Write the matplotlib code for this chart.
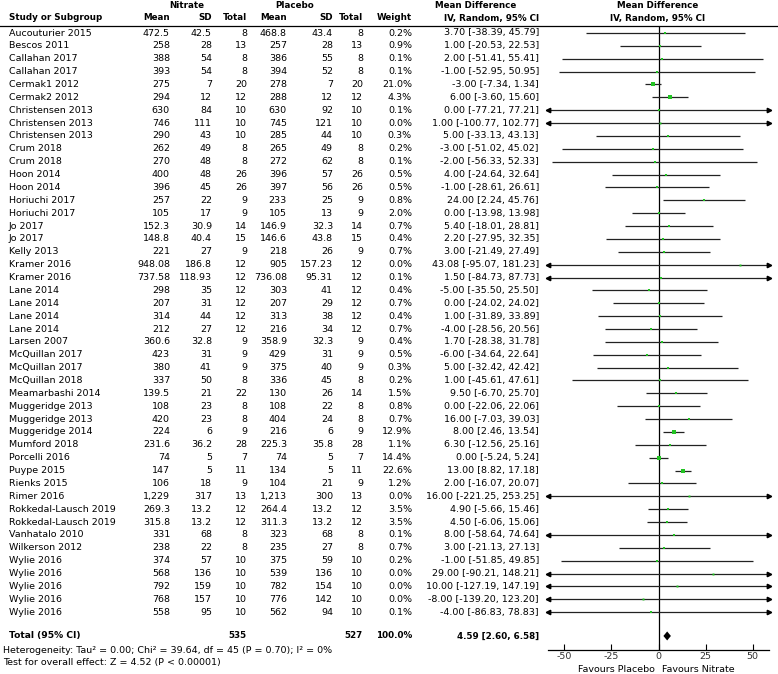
import matplotlib
matplotlib.use('Agg')
import matplotlib.pyplot as plt
import numpy as np

plt.rcParams['font.family'] = ['DejaVu Sans']
plt.rcParams['axes.unicode_minus'] = False
FS = 6.8   # regular text
FB = 6.3   # bold headers

# data
studies = ['Aucouturier 2015', 'Bescos 2011', 'Callahan 2017', 'Callahan 2017', 'Cermak1 2012',
           'Cermak2 2012', 'Christensen 2013', 'Christensen 2013', 'Christensen 2013', 'Crum 2018',
           'Crum 2018', 'Hoon 2014', 'Hoon 2014', 'Horiuchi 2017', 'Horiuchi 2017', 'Jo 2017',
           'Jo 2017', 'Kelly 2013', 'Kramer 2016', 'Kramer 2016', 'Lane 2014', 'Lane 2014',
           'Lane 2014', 'Lane 2014', 'Larsen 2007', 'McQuillan 2017', 'McQuillan 2017',
           'McQuillan 2018', 'Meamarbashi 2014', 'Muggeridge 2013', 'Muggeridge 2013',
           'Muggeridge 2014', 'Mumford 2018', 'Porcelli 2016', 'Puype 2015', 'Rienks 2015',
           'Rimer 2016', 'Rokkedal-Lausch 2019', 'Rokkedal-Lausch 2019', 'Vanhatalo 2010',
           'Wilkerson 2012', 'Wylie 2016', 'Wylie 2016', 'Wylie 2016', 'Wylie 2016', 'Wylie 2016']

nit_mean = [472.5, 258, 388, 393, 275, 294, 630, 746, 290, 262, 270, 400, 396, 257, 105, 152.3,
            148.8, 221, 948.08, 737.58, 298, 207, 314, 212, 360.6, 423, 380, 337, 139.5, 108, 420,
            224, 231.6, 74, 147, 106, 1229, 269.3, 315.8, 331, 238, 374, 568, 792, 768, 558]
nit_sd = [42.5, 28, 54, 54, 7, 12, 84, 111, 43, 49, 48, 48, 45, 22, 17, 30.9, 40.4, 27, 186.8,
          118.93, 35, 31, 44, 27, 32.8, 31, 41, 50, 21, 23, 23, 6, 36.2, 5, 5, 18, 317, 13.2, 13.2,
          68, 22, 57, 136, 159, 157, 95]
nit_n = [8, 13, 8, 8, 20, 12, 10, 10, 10, 8, 8, 26, 26, 9, 9, 14, 15, 9, 12, 12, 12, 12, 12, 12, 9,
         9, 9, 8, 22, 8, 8, 9, 28, 7, 11, 9, 13, 12, 12, 8, 8, 10, 10, 10, 10, 10]

pla_mean = [468.8, 257, 386, 394, 278, 288, 630, 745, 285, 265, 272, 396, 397, 233, 105, 146.9,
            146.6, 218, 905, 736.08, 303, 207, 313, 216, 358.9, 429, 375, 336, 130, 108, 404, 216,
            225.3, 74, 134, 104, 1213, 264.4, 311.3, 323, 235, 375, 539, 782, 776, 562]
pla_sd = [43.4, 28, 55, 52, 7, 12, 92, 121, 44, 49, 62, 57, 56, 25, 13, 32.3, 43.8, 26, 157.23,
          95.31, 41, 29, 38, 34, 32.3, 31, 40, 45, 26, 22, 24, 6, 35.8, 5, 5, 21, 300, 13.2, 13.2,
          68, 27, 59, 136, 154, 142, 94]
pla_n = [8, 13, 8, 8, 20, 12, 10, 10, 10, 8, 8, 26, 26, 9, 9, 14, 15, 9, 12, 12, 12, 12, 12, 12, 9,
         9, 9, 8, 14, 8, 8, 9, 28, 7, 11, 9, 13, 12, 12, 8, 8, 10, 10, 10, 10, 10]

weight = [0.2, 0.9, 0.1, 0.1, 21.0, 4.3, 0.1, 0.0, 0.3, 0.2, 0.1, 0.5, 0.5, 0.8, 2.0, 0.7, 0.4, 0.7,
          0.0, 0.1, 0.4, 0.7, 0.4, 0.7, 0.4, 0.5, 0.3, 0.2, 1.5, 0.8, 0.7, 12.9, 1.1, 14.4, 22.6, 1.2,
          0.0, 3.5, 3.5, 0.1, 0.7, 0.2, 0.0, 0.0, 0.0, 0.1]
md = [3.70, 1.00, 2.00, -1.00, -3.00, 6.00, 0.00, 1.00, 5.00, -3.00, -2.00, 4.00, -1.00, 24.00,
      0.00, 5.40, 2.20, 3.00, 43.08, 1.50, -5.00, 0.00, 1.00, -4.00, 1.70, -6.00, 5.00, 1.00, 9.50,
      0.00, 16.00, 8.00, 6.30, 0.00, 13.00, 2.00, 16.00, 4.90, 4.50, 8.00, 3.00, -1.00, 29.00,
      10.00, -8.00, -4.00]
ci_lo = [-38.39, -20.53, -51.41, -52.95, -7.34, -3.60, -77.21, -100.77, -33.13, -51.02, -56.33,
         -24.64, -28.61, 2.24, -13.98, -18.01, -27.95, -21.49, -95.07, -84.73, -35.50, -24.02,
         -31.89, -28.56, -28.38, -34.64, -32.42, -45.61, -6.70, -22.06, -7.03, 2.46, -12.56, -5.24,
         8.82, -16.07, -221.25, -5.66, -6.06, -58.64, -21.13, -51.85, -90.21, -127.19, -139.20,
         -86.83]
ci_hi = [45.79, 22.53, 55.41, 50.95, 1.34, 15.60, 77.21, 102.77, 43.13, 45.02, 52.33, 32.64, 26.61,
         45.76, 13.98, 28.81, 32.35, 27.49, 181.23, 87.73, 25.50, 24.02, 33.89, 20.56, 31.78, 22.64,
         42.42, 47.61, 25.70, 22.06, 39.03, 13.54, 25.16, 5.24, 17.18, 20.07, 253.25, 15.46, 15.06,
         74.64, 27.13, 49.85, 148.21, 147.19, 123.20, 78.83]

total_nit, total_pla = 535, 527
total_weight = 100.0
total_md, total_lo, total_hi = 4.59, 2.60, 6.58
het_text = 'Heterogeneity: Tau\u00b2 = 0.00; Chi\u00b2 = 39.64, df = 45 (P = 0.70); I\u00b2 = 0%'
effect_text = 'Test for overall effect: Z = 4.52 (P < 0.00001)'
xticks = [-50, -25, 0, 25, 50]
xlim = (-58.6, 58.6)


def fmt(v):
    return f'{v:,}' if isinstance(v, int) else str(v)


W, H = 778, 674
ROW0, ROWH = 33, 12.87
n = len(studies)

fig = plt.figure(figsize=(W / 100, H / 100), dpi=100)

# table layer in pixel coordinates
ax = fig.add_axes([0, 0, 1, 1])
ax.set_xlim(0, W)
ax.set_ylim(H, 0)
ax.axis('off')

def ry(r):
    return ROW0 + r * ROWH

# headers
ax.text(187, 6, 'Nitrate', fontsize=FB, fontweight='bold', ha='center', va='center')
ax.text(295, 6, 'Placebo', fontsize=FB, fontweight='bold', ha='center', va='center')
ax.text(476, 6, 'Mean Difference', fontsize=FB, fontweight='bold', ha='center', va='center')
ax.text(658, 6, 'Mean Difference', fontsize=FB, fontweight='bold', ha='center', va='center')
ax.text(9, 18, 'Study or Subgroup', fontsize=FB, fontweight='bold', ha='left', va='center')
col_right = [170, 212, 247, 287, 333, 363, 412]
col_names = ['Mean', 'SD', 'Total', 'Mean', 'SD', 'Total', 'Weight']
for x, name in zip(col_right, col_names):
    ax.text(x, 18, name, fontsize=FB, fontweight='bold', ha='right', va='center')
ax.text(539, 18, 'IV, Random, 95% CI', fontsize=FB, fontweight='bold', ha='right', va='center')
ax.text(658, 18, 'IV, Random, 95% CI', fontsize=FB, fontweight='bold', ha='center', va='center')
ax.axhline(26, color='black', lw=0.9)

# study rows
for i in range(n):
    y = ry(i)
    ax.text(9, y, studies[i], fontsize=FS, ha='left', va='center')
    vals = [nit_mean[i], nit_sd[i], nit_n[i], pla_mean[i], pla_sd[i], pla_n[i]]
    for x, v in zip(col_right, vals):
        ax.text(x, y, fmt(v), fontsize=FS, ha='right', va='center')
    ax.text(col_right[6], y, f'{weight[i]:.1f}%', fontsize=FS, ha='right', va='center')
    ax.text(539, y, f'{md[i]:.2f} [{ci_lo[i]:.2f}, {ci_hi[i]:.2f}]', fontsize=FS,
            ha='right', va='center')

# total + footer
yt = ry(n + 0.85)
ax.text(9, yt, 'Total (95% CI)', fontsize=FB + 0.3, fontweight='bold', ha='left', va='center')
ax.text(col_right[2], yt, str(total_nit), fontsize=FB, fontweight='bold', ha='right', va='center')
ax.text(col_right[5], yt, str(total_pla), fontsize=FB, fontweight='bold', ha='right', va='center')
ax.text(col_right[6], yt, f'{total_weight:.1f}%', fontsize=FB, fontweight='bold',
        ha='right', va='center')
ax.text(539, yt, f'{total_md:.2f} [{total_lo:.2f}, {total_hi:.2f}]', fontsize=FB,
        fontweight='bold', ha='right', va='center')
ax.text(3, ry(n + 1.95), het_text, fontsize=FS, ha='left', va='center')
ax.text(3, ry(n + 2.95), effect_text, fontsize=FS, ha='left', va='center')
ax.text(655, 669, 'Favours Placebo', fontsize=FS, ha='right', va='center')
ax.text(662, 669, 'Favours Nitrate', fontsize=FS, ha='left', va='center')

# forest panel
top_px, bot_px = 26, 650
fa = fig.add_axes([548 / W, 1 - bot_px / H, 221 / W, (bot_px - top_px) / H])
fa.set_xlim(*xlim)
fa.set_ylim((bot_px - ROW0) / ROWH, (top_px - ROW0) / ROWH)
fa.patch.set_alpha(0)
for s in ['top', 'left', 'right']:
    fa.spines[s].set_visible(False)
fa.spines['bottom'].set_linewidth(0.9)
fa.set_yticks([])
fa.set_xticks(xticks)
fa.set_xticklabels([str(t) for t in xticks])
fa.tick_params(axis='x', direction='in', length=4, width=0.8, labelsize=FS, pad=1.5,
               labelcolor='#333333')
fa.axvline(0, color='black', lw=0.9)

rows = np.arange(n)
lo = np.array(ci_lo)
hi = np.array(ci_hi)
fa.hlines(rows, np.clip(lo, *xlim), np.clip(hi, *xlim), color='#222222', lw=0.9)
left_arrow = lo < xlim[0]
right_arrow = hi > xlim[1]
fa.plot(np.full(left_arrow.sum(), xlim[0]), rows[left_arrow], marker='<', ls='none',
        color='black', ms=3.2, clip_on=False)
fa.plot(np.full(right_arrow.sum(), xlim[1]), rows[right_arrow], marker='>', ls='none',
        color='black', ms=3.2, clip_on=False)
for i in range(n):
    ms = 1.4 + 1.9 * np.sqrt(weight[i] / max(weight))
    fa.plot(md[i], i, marker='s', ls='none', color='#22c322', ms=ms, mew=0)

# pooled diamond
tr = n + 0.85
fa.fill([total_lo, total_md, total_hi, total_md], [tr, tr - 0.35, tr, tr + 0.35],
        color='black', lw=0)

fig.savefig('out.png', dpi=100)
